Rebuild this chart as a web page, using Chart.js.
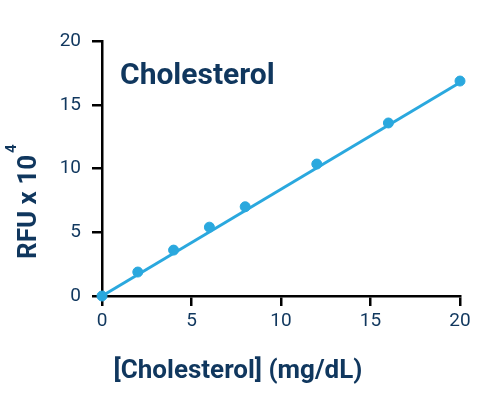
<!DOCTYPE html>
<html>
<head>
<meta charset="utf-8">
<script src="https://cdn.jsdelivr.net/npm/chart.js@4"></script>
<style>
    html, body { margin: 0; padding: 0; background: #fff; }
    #wrap { width: 502px; height: 396px; }
</style>
</head>
<body>
<div id="wrap"><canvas id="chartMain"></canvas></div>
<script>
const concentrations = [0, 2, 4, 6, 8, 12, 16, 20];
const rfu = [0, 1.88, 3.6, 5.4, 7.0, 10.35, 13.57, 16.86];
const fitX = [0, 20];
const fitY = [0, 16.75];
const xTicks = [0, 5, 10, 15, 20];
const yTicks = [0, 5, 10, 15, 20];

const navy = '#10375e';
const blue = '#2aa8de';

// titles drawn by hand so they can sit off-centre like the original
const titlesPlugin = {
    id: 'titles',
    afterDraw(chart) {
        const ctx = chart.ctx;
        ctx.save();
        ctx.fillStyle = navy;
        ctx.textBaseline = 'alphabetic';

        ctx.font = 'bold 30px Roboto';
        ctx.textAlign = 'left';
        ctx.fillText('Cholesterol', 120, 84);

        ctx.font = 'bold 26px Roboto';
        ctx.textAlign = 'center';
        ctx.fillText('[Cholesterol] (mg/dL)', 238, 378);

        // y title with raised exponent
        ctx.translate(36, 259);
        ctx.rotate(-Math.PI / 2);
        ctx.font = 'bold 26px Roboto';
        ctx.textAlign = 'left';
        ctx.fillText('RFU x 10', 0, 0);
        const w = ctx.measureText('RFU x 10').width;
        ctx.font = 'bold 15px Roboto';
        ctx.fillText('4', w + 2, -20);
        ctx.restore();
    }
};

new Chart(document.getElementById('chartMain'), {
    type: 'scatter',
    data: {
        datasets: [
            {
                label: 'Cholesterol', data: concentrations.map((x, i) => ({ x: x, y: rfu[i] })),
                backgroundColor: blue, borderColor: blue, pointRadius: 5, order: 1, clip: false
            },
            {
                label: 'Fit', type: 'line', data: fitX.map((x, i) => ({ x: x, y: fitY[i] })),
                borderColor: blue, borderWidth: 3, pointRadius: 0, order: 2, clip: false
            }
        ]
    },
    plugins: [titlesPlugin],
    options: {
        responsive: true, maintainAspectRatio: false, animation: false,
        layout: { padding: { top: 41, right: 42, left: 0, bottom: 0 } },
        plugins: { legend: { display: false }, tooltip: { enabled: false } },
        scales: {
            x: {
                type: 'linear', min: 0, max: 20,
                afterFit: s => { s.height = 100; },
                afterBuildTicks: s => { s.ticks = xTicks.map(v => ({ value: v })); },
                border: { display: true, color: '#000', width: 2.5 },
                grid: { drawOnChartArea: false, drawTicks: true, tickLength: 10, color: '#000', lineWidth: 2.5 },
                ticks: { color: navy, font: { family: 'Roboto', size: 19 }, padding: 4 }
            },
            y: {
                type: 'linear', min: 0, max: 20,
                afterFit: s => { s.width = 102; },
                afterBuildTicks: s => { s.ticks = yTicks.map(v => ({ value: v })); },
                border: { display: true, color: '#000', width: 2.5 },
                grid: { drawOnChartArea: false, drawTicks: true, tickLength: 10, color: '#000', lineWidth: 2.5 },
                ticks: { color: navy, font: { family: 'Roboto', size: 19 }, padding: 11 }
            }
        }
    }
});
</script>
</body>
</html>
